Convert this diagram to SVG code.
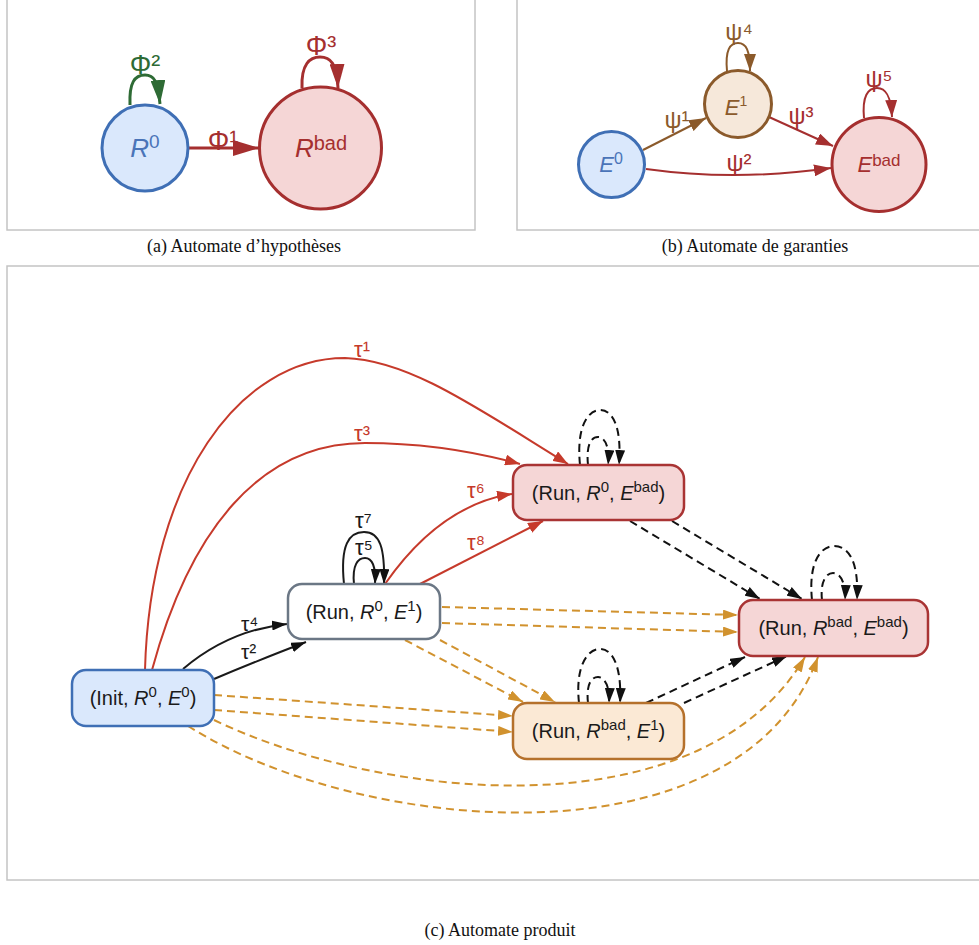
<svg xmlns="http://www.w3.org/2000/svg" width="979" height="945" viewBox="0 0 979 945">
<style>
  .frame { fill: #ffffff; stroke: #c4c4c4; stroke-width: 1.5; }
  .cap { font-family: "Liberation Serif", "Times New Roman", serif; font-size: 18px; fill: #111; text-anchor: middle; }
  .lbl { font-family: "Liberation Sans", Arial, "DejaVu Sans", sans-serif; }
  .ntxt { font-family: "Liberation Sans", Arial, sans-serif; font-size: 20px; fill: #1a1a1a; text-anchor: middle; }
  .it { font-style: italic; }
  .e { fill: none; }
  .dash { stroke-dasharray: 8 5; }
</style>
<defs>
  <marker id="ma-red" viewBox="0 0 10 10" refX="10" refY="5" markerWidth="26" markerHeight="16" markerUnits="userSpaceOnUse" preserveAspectRatio="none" orient="auto"><path d="M0,0 L10,5 L0,10 z" fill="#a52f2f"/></marker>
  <marker id="ma-redl" viewBox="0 0 10 10" refX="10" refY="5" markerWidth="24" markerHeight="15" markerUnits="userSpaceOnUse" preserveAspectRatio="none" orient="auto"><path d="M0,0 L10,5 L0,10 z" fill="#a52f2f"/></marker>
  <marker id="ma-green" viewBox="0 0 10 10" refX="10" refY="5" markerWidth="24" markerHeight="15" markerUnits="userSpaceOnUse" preserveAspectRatio="none" orient="auto"><path d="M0,0 L10,5 L0,10 z" fill="#2e6b35"/></marker>
  <marker id="mb-brown" viewBox="0 0 10 10" refX="10" refY="5" markerWidth="17" markerHeight="12" markerUnits="userSpaceOnUse" preserveAspectRatio="none" orient="auto"><path d="M0,0 L10,5 L0,10 z" fill="#8b5a2b"/></marker>
  <marker id="mb-red" viewBox="0 0 10 10" refX="10" refY="5" markerWidth="17" markerHeight="12" markerUnits="userSpaceOnUse" preserveAspectRatio="none" orient="auto"><path d="M0,0 L10,5 L0,10 z" fill="#a52f2f"/></marker>
  <marker id="mc-red" viewBox="0 0 10 10" refX="10" refY="5" markerWidth="15" markerHeight="11" markerUnits="userSpaceOnUse" preserveAspectRatio="none" orient="auto"><path d="M0,0 L10,5 L0,10 z" fill="#c63a2b"/></marker>
  <marker id="mc-black" viewBox="0 0 10 10" refX="10" refY="5" markerWidth="15" markerHeight="10" markerUnits="userSpaceOnUse" preserveAspectRatio="none" orient="auto"><path d="M0,0 L10,5 L0,10 z" fill="#111"/></marker>
  <marker id="mc-orange" viewBox="0 0 10 10" refX="10" refY="5" markerWidth="15" markerHeight="10" markerUnits="userSpaceOnUse" preserveAspectRatio="none" orient="auto"><path d="M0,0 L10,5 L0,10 z" fill="#d1922e"/></marker>
</defs>

<rect width="979" height="945" fill="#ffffff"/>

<!-- Panel frames -->
<rect class="frame" x="7" y="-1" width="468" height="231"/>
<rect class="frame" x="517" y="-1" width="470" height="231"/>
<rect class="frame" x="7" y="266" width="980" height="614"/>

<text class="cap" x="244" y="252">(a) Automate d’hypothèses</text>
<text class="cap" x="755" y="252">(b) Automate de garanties</text>
<text class="cap" x="500" y="936">(c) Automate produit</text>

<!-- ================= Panel (a) ================= -->
<g id="connectors-a">
  <path class="e" d="M188,148 L259,148" stroke="#a52f2f" stroke-width="3" marker-end="url(#ma-red)"/>
  <path class="e" d="M130,105 C129,82 135,75 145,75 C154,75 158,81 160,104" stroke="#2e6b35" stroke-width="3" marker-end="url(#ma-green)"/>
  <path class="e" d="M302,88 C301,64 310,57 320,57 C330,57 337,63 338,88" stroke="#a52f2f" stroke-width="3" marker-end="url(#ma-redl)"/>
  <text class="lbl" x="223" y="150" font-size="27" fill="#a52f2f" text-anchor="middle">Φ¹</text>
  <text class="lbl" x="145" y="74" font-size="27" fill="#2e6b35" text-anchor="middle">Φ²</text>
  <text class="lbl" x="321" y="55" font-size="27" fill="#a52f2f" text-anchor="middle">Φ³</text>
</g>
<g id="node-R0">
  <circle cx="145" cy="148" r="43" fill="#dae8fc" stroke="#3f6fb5" stroke-width="3"/>
  <text class="lbl" x="145" y="157" font-size="26" fill="#4a74b8" text-anchor="middle"><tspan class="it">R</tspan><tspan font-size="19" dy="-9">0</tspan></text>
</g>
<g id="node-Rbad">
  <circle cx="320.5" cy="148" r="61" fill="#f5d6d6" stroke="#a52f2f" stroke-width="3"/>
  <text class="lbl" x="321" y="157" font-size="26" fill="#a52f2f" text-anchor="middle"><tspan class="it">R</tspan><tspan font-size="20" dy="-7">bad</tspan></text>
</g>

<!-- ================= Panel (b) ================= -->
<g id="connectors-b">
  <path class="e" d="M643,150 L706,118" stroke="#8b5a2b" stroke-width="2" marker-end="url(#mb-brown)"/>
  <path class="e" d="M769,117 L833,146" stroke="#a52f2f" stroke-width="2" marker-end="url(#mb-red)"/>
  <path class="e" d="M646,169 Q736,181.5 831,168" stroke="#a52f2f" stroke-width="2" marker-end="url(#mb-red)"/>
  <path class="e" d="M727,71 C725,50 730,43 738,43 C746,43 750,50 750,71" stroke="#8b5a2b" stroke-width="2" marker-end="url(#mb-brown)"/>
  <path class="e" d="M864,118 C862,96 868,88 877,88 C886,88 891,96 892,117" stroke="#a52f2f" stroke-width="2" marker-end="url(#mb-red)"/>
  <text class="lbl" x="677" y="128" font-size="24" fill="#8b5a2b" text-anchor="middle">ψ¹</text>
  <text class="lbl" x="739" y="171" font-size="24" fill="#a52f2f" text-anchor="middle">ψ²</text>
  <text class="lbl" x="801" y="124" font-size="24" fill="#a52f2f" text-anchor="middle">ψ³</text>
  <text class="lbl" x="739" y="40" font-size="24" fill="#8b5a2b" text-anchor="middle">ψ⁴</text>
  <text class="lbl" x="879" y="87" font-size="24" fill="#a52f2f" text-anchor="middle">ψ⁵</text>
</g>
<g id="node-E0">
  <circle cx="611.5" cy="164.5" r="33" fill="#dae8fc" stroke="#3f6fb5" stroke-width="3"/>
  <text class="lbl" x="611" y="172" font-size="22" fill="#4a74b8" text-anchor="middle"><tspan class="it">E</tspan><tspan font-size="16" dy="-8">0</tspan></text>
</g>
<g id="node-E1">
  <circle cx="738" cy="104" r="33.5" fill="#f6e8da" stroke="#8b5a2b" stroke-width="3"/>
  <text class="lbl" x="736" y="115" font-size="22" fill="#8b5a2b" text-anchor="middle"><tspan class="it">E</tspan><tspan font-size="14" dy="-9">1</tspan></text>
</g>
<g id="node-Ebad">
  <circle cx="879" cy="164.5" r="47" fill="#f5d6d6" stroke="#a52f2f" stroke-width="3"/>
  <text class="lbl" x="879" y="172" font-size="22" fill="#a52f2f" text-anchor="middle"><tspan class="it">E</tspan><tspan font-size="17" dy="-6">bad</tspan></text>
</g>

<!-- ================= Panel (c) ================= -->
<g id="connectors-c">
  <!-- red solid -->
  <path class="e" d="M145,670 C150,480 240,358 345,358 C410,360 480,410 568,464" stroke="#c63a2b" stroke-width="2" marker-end="url(#mc-red)"/>
  <path class="e" d="M152,670 C190,530 260,443 365,443 C430,443 480,453 520,464" stroke="#c63a2b" stroke-width="2" marker-end="url(#mc-red)"/>
  <path class="e" d="M385,584 Q440,505 512,494" stroke="#c63a2b" stroke-width="2" marker-end="url(#mc-red)"/>
  <path class="e" d="M420,584 L543,521" stroke="#c63a2b" stroke-width="2" marker-end="url(#mc-red)"/>
  <!-- black solid -->
  <path class="e" d="M183,669 Q229,630 287,624" stroke="#1a1a1a" stroke-width="2" marker-end="url(#mc-black)"/>
  <path class="e" d="M214,679 Q254,662 306,642" stroke="#1a1a1a" stroke-width="2" marker-end="url(#mc-black)"/>
  <path class="e" d="M354,584 C352,565 358,558 365,558 C372,558 376,566 375,584" stroke="#1a1a1a" stroke-width="2" marker-end="url(#mc-black)"/>
  <path class="e" d="M344,584 C340,545 349,532 364,532 C380,532 385,548 384,584" stroke="#1a1a1a" stroke-width="2" marker-end="url(#mc-black)"/>
  <!-- black dashed -->
  <path class="e dash" d="M630,521 L760,599" stroke="#111" stroke-width="2" marker-end="url(#mc-black)"/>
  <path class="e dash" d="M672,521 L802,599" stroke="#111" stroke-width="2" marker-end="url(#mc-black)"/>
  <path class="e dash" d="M646,703 L745,657" stroke="#111" stroke-width="2" marker-end="url(#mc-black)"/>
  <path class="e dash" d="M684,703 L787,656" stroke="#111" stroke-width="2" marker-end="url(#mc-black)"/>
  <path class="e dash" d="M580,465 C576,425 589,410 600,410 C612,410 622,425 619,465" stroke="#111" stroke-width="2" marker-end="url(#mc-black)"/>
  <path class="e dash" d="M588,465 C586,445 591,437 598,437 C604,437 610,445 608,465" stroke="#111" stroke-width="2" marker-end="url(#mc-black)"/>
  <path class="e dash" d="M812,600 C808,560 822,546 834,546 C848,546 859,560 857,600" stroke="#111" stroke-width="2" marker-end="url(#mc-black)"/>
  <path class="e dash" d="M822,600 C820,582 826,573 833,573 C840,573 846,582 845,600" stroke="#111" stroke-width="2" marker-end="url(#mc-black)"/>
  <path class="e dash" d="M579,703 C575,665 588,649 600,649 C612,649 622,665 620,703" stroke="#111" stroke-width="2" marker-end="url(#mc-black)"/>
  <path class="e dash" d="M588,703 C586,685 591,677 598,677 C604,677 610,685 609,703" stroke="#111" stroke-width="2" marker-end="url(#mc-black)"/>
  <!-- orange dashed -->
  <path class="e dash" d="M442,607 L738,615" stroke="#d1922e" stroke-width="2" marker-end="url(#mc-orange)"/>
  <path class="e dash" d="M442,623 L738,632" stroke="#d1922e" stroke-width="2" marker-end="url(#mc-orange)"/>
  <path class="e dash" d="M405,640 L523,702" stroke="#d1922e" stroke-width="2" marker-end="url(#mc-orange)"/>
  <path class="e dash" d="M440,640 L555,702" stroke="#d1922e" stroke-width="2" marker-end="url(#mc-orange)"/>
  <path class="e dash" d="M214,695 L513,716" stroke="#d1922e" stroke-width="2" marker-end="url(#mc-orange)"/>
  <path class="e dash" d="M214,710 L513,732" stroke="#d1922e" stroke-width="2" marker-end="url(#mc-orange)"/>
  <path class="e dash" d="M214,720 C380,800 700,835 805,657" stroke="#d1922e" stroke-width="2" marker-end="url(#mc-orange)"/>
  <path class="e dash" d="M188,726 C360,835 740,870 818,657" stroke="#d1922e" stroke-width="2" marker-end="url(#mc-orange)"/>
  <!-- labels -->
  <text class="lbl" x="354" y="357" font-size="22" fill="#c63a2b">τ¹</text>
  <text class="lbl" x="354" y="441" font-size="22" fill="#c63a2b">τ³</text>
  <text class="lbl" x="467" y="498" font-size="22" fill="#c63a2b">τ⁶</text>
  <text class="lbl" x="467" y="550" font-size="22" fill="#c63a2b">τ⁸</text>
  <text class="lbl" x="355" y="528" font-size="22" fill="#1a1a1a">τ⁷</text>
  <text class="lbl" x="355" y="555" font-size="22" fill="#1a1a1a">τ⁵</text>
  <text class="lbl" x="241" y="631" font-size="21" fill="#1a1a1a">τ⁴</text>
  <text class="lbl" x="241" y="659" font-size="21" fill="#1a1a1a">τ²</text>
</g>

<g id="node-Init-R0-E0">
  <rect x="72" y="670" width="142" height="56" rx="14" fill="#dae8fc" stroke="#3f6fb5" stroke-width="2.5"/>
  <text class="ntxt" x="143" y="705">(Init, <tspan class="it">R</tspan><tspan font-size="15" dy="-8">0</tspan><tspan dy="8">, </tspan><tspan class="it">E</tspan><tspan font-size="15" dy="-8">0</tspan><tspan dy="8">)</tspan></text>
</g>
<g id="node-Run-R0-E1">
  <rect x="288" y="584" width="152" height="55" rx="14" fill="#ffffff" stroke="#6b7785" stroke-width="2.5"/>
  <text class="ntxt" x="364" y="619">(Run, <tspan class="it">R</tspan><tspan font-size="15" dy="-8">0</tspan><tspan dy="8">, </tspan><tspan class="it">E</tspan><tspan font-size="15" dy="-8">1</tspan><tspan dy="8">)</tspan></text>
</g>
<g id="node-Run-R0-Ebad">
  <rect x="513" y="465" width="171" height="55" rx="14" fill="#f5d6d6" stroke="#a93434" stroke-width="2.5"/>
  <text class="ntxt" x="598.5" y="500">(Run, <tspan class="it">R</tspan><tspan font-size="15" dy="-8">0</tspan><tspan dy="8">, </tspan><tspan class="it">E</tspan><tspan font-size="15" dy="-8">bad</tspan><tspan dy="8">)</tspan></text>
</g>
<g id="node-Run-Rbad-Ebad">
  <rect x="739" y="600" width="189" height="56" rx="14" fill="#f5d6d6" stroke="#a93434" stroke-width="2.5"/>
  <text class="ntxt" x="833.5" y="635">(Run, <tspan class="it">R</tspan><tspan font-size="15" dy="-8">bad</tspan><tspan dy="8">, </tspan><tspan class="it">E</tspan><tspan font-size="15" dy="-8">bad</tspan><tspan dy="8">)</tspan></text>
</g>
<g id="node-Run-Rbad-E1">
  <rect x="513" y="703" width="171" height="56" rx="14" fill="#fbe9d5" stroke="#b5712c" stroke-width="2.5"/>
  <text class="ntxt" x="598.5" y="738">(Run, <tspan class="it">R</tspan><tspan font-size="15" dy="-8">bad</tspan><tspan dy="8">, </tspan><tspan class="it">E</tspan><tspan font-size="15" dy="-8">1</tspan><tspan dy="8">)</tspan></text>
</g>
</svg>
